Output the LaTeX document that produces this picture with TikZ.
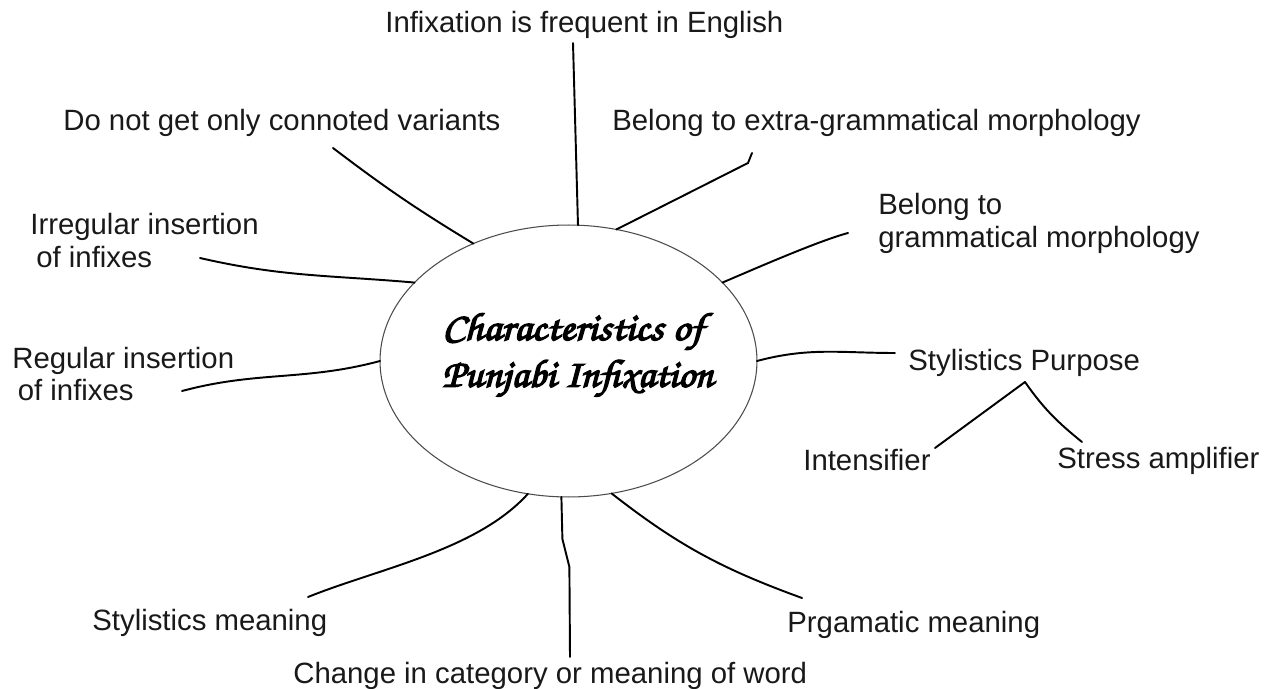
\documentclass[tikz,border=0pt]{standalone}
\usepackage[T1]{fontenc}
\usepackage{fontspec}
\setmainfont{Liberation Sans}
\usepackage{graphicx}
\usetikzlibrary{shapes.geometric}
\newcommand\titlefont{\fontencoding{T1}\fontfamily{pzc}\fontseries{mb}\fontshape{it}\selectfont}
\newcommand\fakebold[1]{\special{pdf:literal direct 2 Tr 0.35 w}#1\special{pdf:literal direct 0 Tr}}
\begin{document}
\begin{tikzpicture}[x=0.02cm,y=-0.02cm,
  lbl/.style={anchor=base west, inner sep=0, text=black!90, font=\fontsize{16.7}{18.7}\selectfont},
  conn/.style={line width=1.1pt, black, line cap=round, line join=round},
  ell/.style={ellipse, draw=black!70, line width=0.6pt, minimum width=7.54cm, minimum height=5.44cm, inner sep=0, outer sep=0}]
\useasboundingbox (0,0) rectangle (1275,689);
\fill[white] (0,0) rectangle (1275,689);

% central ellipse and title
\node[ell] (E) at (568.5,361) {};
\node[anchor=base west, inner sep=0] (T) at (442,340) {\titlefont\vtop{\baselineskip=26.6pt\lineskiplimit=-1000pt
  \hbox{\resizebox{5.22cm}{0.56cm}{\fakebold{Characteristics of}}}
  \hbox{\resizebox{5.42cm}{0.56cm}{\fakebold{Punjabi Infixation}}}}};

% labels
\node[lbl] (inf) at (385,33) {Infixation is frequent in English};
\node[lbl] (donot) at (63,131) {Do not get only connoted variants};
\node[lbl] (extra) at (612,131) {Belong to extra-grammatical morphology};
\node[lbl] (gram) at (878,215) {\begin{tabular}[t]{@{}l@{}}Belong to\\grammatical morphology\end{tabular}};
\node[lbl] (irreg) at (30,235) {\begin{tabular}[t]{@{}l@{}}Irregular insertion\\\hspace*{0.12cm}of infixes\end{tabular}};
\node[lbl] (reg) at (12,368) {\begin{tabular}[t]{@{}l@{}}Regular insertion\\\hspace*{0.11cm}of infixes\end{tabular}};
\node[lbl] (styp) at (908,370) {Stylistics Purpose};
\node[lbl] (int) at (803,470) {Intensifier};
\node[lbl] (stress) at (1057,468) {Stress amplifier};
\node[lbl] (stym) at (92,630) {Stylistics meaning};
\node[lbl] (prag) at (787,632) {Prgamatic meaning};
\node[lbl] (chg) at (293,683) {Change in category or meaning of word};

% connector free ends
\coordinate (a1) at (573,43);
\coordinate (a2) at (333,148);
\coordinate (a3) at (752,153);
\coordinate (a4) at (848,233);
\coordinate (a5) at (200,258);
\coordinate (a6) at (182,391);
\coordinate (a7) at (895,353);
\coordinate (ap) at (1025,382);
\coordinate (bl) at (935,448);
\coordinate (br) at (1082,442);
\coordinate (a11) at (308,597);
\coordinate (a12) at (570,657);
\coordinate (a13) at (802,598);

% connectors
\draw[conn] (a1) -- (E.86);
\draw[conn] (a2) to[bend right=3] (E.129);
\draw[conn] (a3) -- ++(-4,10) -- (E.70);
\draw[conn] (a4) to[out=195,in=23,looseness=0.6] (E.27);
\draw[conn] (a5) to[out=-13,in=175] (E.153);
\draw[conn] (a6) to[out=15,in=195] (E.180);
\draw[conn] (E.0) to[out=15,in=180] (a7);
\draw[conn] (bl) -- (ap) to[out=-55,in=141] (br);
\draw[conn] (a11) to[out=22,in=228,looseness=0.8] (E.253);
\draw[conn] (E.267) -- ++(1,42) -- ++(7,28) -- (a12);
\draw[conn] (E.288) to[out=-38,in=160] (a13);
\end{tikzpicture}
\end{document}
